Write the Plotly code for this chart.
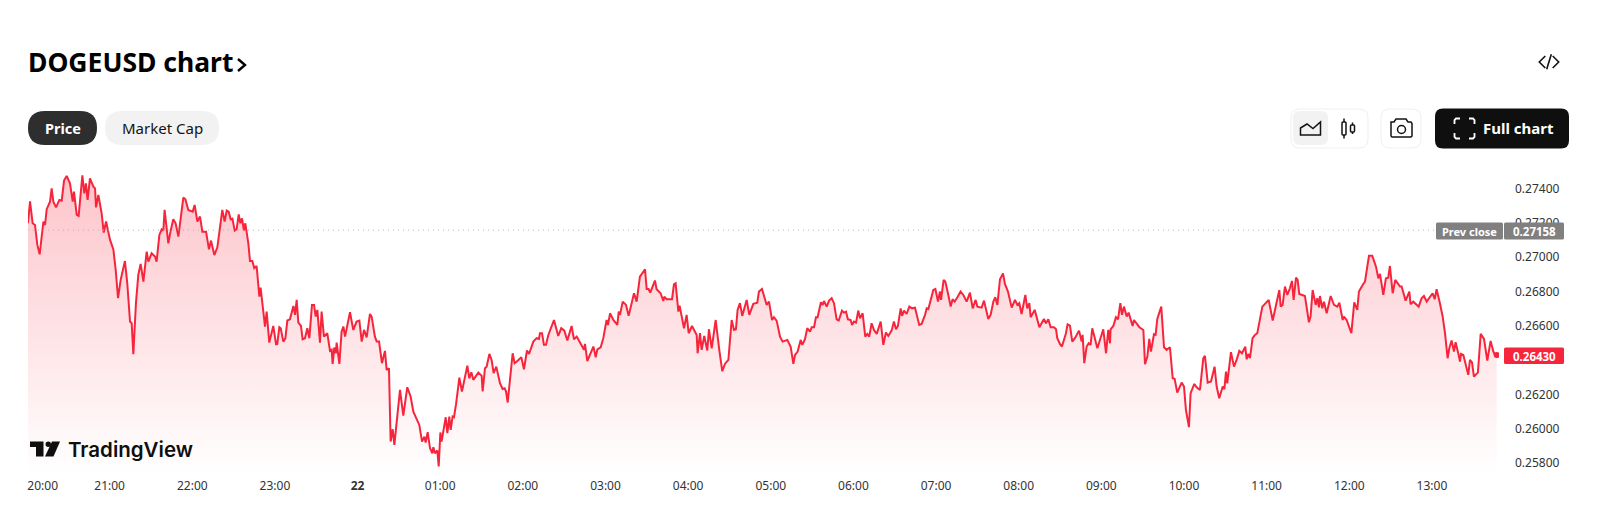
import plotly.graph_objects as go

# minutes after 20:00 and price in 1/100000 USD
minutes = [
    0.7, 2.2, 4.1, 5.8, 7.5, 9.2, 11.9, 13.1, 14.3, 16.7, 17.9, 19.1, 21.1, 23.5, 25.2, 26.9, 28.8, 31.2, 33.2, 34.1,
    36.1, 37.5, 40.2, 41.6, 42.8, 44.0, 45.7, 48.2, 49.4, 50.1, 51.8, 54.2, 55.7, 57.4, 60.3, 62.7, 64.4, 66.1, 68.0, 71.1,
    72.8, 74.8, 76.0, 77.2, 79.1, 80.8, 82.5, 84.5, 86.9, 88.1, 90.5, 92.9, 94.1, 96.1, 97.8, 99.0, 99.9, 102.6, 104.3, 106.2,
    107.9, 109.9, 113.5, 115.0, 117.1, 120.3, 121.7, 123.7, 125.6, 127.3, 130.0, 132.1, 133.6, 136.0, 138.2, 140.1, 141.8, 143.5, 145.0, 146.4,
    147.9, 149.1, 150.8, 152.2, 153.7, 154.9, 156.1, 157.5, 158.5, 160.7, 161.9, 163.6, 165.0, 166.7, 168.7, 169.6, 171.6, 172.8, 174.0, 175.9,
    178.8, 180.8, 181.7, 183.2, 184.2, 186.1, 187.6, 189.0, 190.9, 193.4, 194.6, 195.8, 197.0, 198.9, 200.1, 201.8, 203.5, 205.0, 206.9, 208.4,
    209.6, 210.8, 212.7, 213.9, 215.6, 218.0, 220.0, 221.2, 221.9, 223.1, 224.3, 224.8, 226.8, 228.4, 229.7, 230.9, 234.5, 236.9, 239.3, 241.3,
    243.0, 244.7, 246.6, 249.0, 250.2, 252.6, 253.9, 255.6, 257.7, 259.9, 261.1, 262.8, 264.0, 265.5, 266.7, 268.4,
    270.8, 273.2, 276.1, 278.5, 280.5, 284.8, 286.8, 288.5, 289.4, 290.9, 292.6, 294.3, 295.0, 296.2, 297.9, 298.9, 300.1, 301.0, 304.0, 305.2,
    306.6, 307.6, 309.0, 310.0, 311.5, 313.9, 315.8, 319.7, 321.1, 322.6, 324.0, 327.7, 330.1, 330.8, 332.5, 333.7, 335.7, 337.3, 338.8, 340.7,
    343.4, 345.3, 346.8, 347.8, 349.0, 352.6, 354.0, 356.2, 358.9, 360.8, 363.0, 364.5, 367.6, 370.0, 371.7, 372.4, 373.9, 375.3, 376.8, 378.5,
    380.9, 382.6, 385.7, 387.9, 390.1, 392.3, 395.4, 397.1, 399.1, 404.4, 405.1, 406.8, 411.2, 412.9, 414.1, 416.5, 418.4, 420.8, 421.8, 423.3,
    425.7, 428.6, 429.6, 430.5, 432.5, 434.9, 436.8, 440.7, 442.6, 445.0, 448.7, 449.9, 451.3, 452.5, 455.9, 457.1, 460.0, 462.0, 462.7, 464.4,
    468.3, 469.7, 470.9, 472.9, 473.8, 477.0, 478.9, 480.4, 482.8, 486.2, 486.9, 488.6, 489.8, 491.7, 493.9, 495.1, 497.1, 500.0, 502.6, 504.8,
    506.7, 509.2, 511.6, 513.3, 514.7, 515.9, 517.6, 519.3, 522.5, 524.4, 527.3, 530.2, 531.4, 533.6, 537.0, 538.7, 540.9, 542.3, 544.3, 546.7,
    548.6, 552.0, 554.4, 556.4, 557.6, 559.5, 561.7, 562.9, 564.8, 566.5, 568.5, 569.7, 571.4, 572.8, 574.0, 576.4, 577.7, 578.6, 580.6, 582.3,
    584.2, 585.9, 587.8, 589.3, 591.7, 593.1, 594.6, 596.0, 598.0, 599.0, 600.4, 601.9, 603.5, 604.8, 606.7, 608.6, 610.1, 611.5, 613.2, 614.9,
    616.9, 619.8, 621.7, 623.6, 625.3, 627.7, 629.4, 630.9, 632.3, 634.3, 635.3, 636.7, 638.6, 640.6, 642.5, 644.7, 647.8, 649.5, 652.0, 653.2,
    654.4, 658.0, 659.5, 661.4, 662.8, 663.6, 665.5, 666.7, 668.9, 670.6, 672.0, 673.5, 675.7, 677.8, 679.8, 682.2, 684.6, 686.6, 688.7, 690.0,
    693.1, 694.8, 697.9, 699.6, 701.6, 703.0, 704.5, 706.4, 708.6, 710.0, 712.2, 714.9, 717.3, 719.0, 720.4, 722.1, 724.8, 726.2, 727.7, 728.7,
    731.6, 735.0, 738.3, 739.8, 741.5, 743.2, 745.6, 747.1, 748.0, 750.0, 751.4, 754.3, 755.5, 757.2, 758.9, 760.8, 763.8, 765.7, 766.4, 767.6,
    769.3, 770.8, 772.2, 773.4, 777.1, 781.4, 783.4, 785.0, 786.3, 786.7, 788.7, 790.6, 792.1, 793.8, 795.0, 796.4, 798.4, 799.8, 802.7, 803.7,
    807.6, 810.5, 811.7, 813.4, 814.8, 816.0, 818.2, 819.4,
    820.6, 823.5, 825.5, 827.4, 829.8, 831.8, 833.2, 835.1, 838.3, 840.0, 841.4, 843.6, 844.8, 847.5, 849.2, 851.6, 854.0, 855.2, 857.2, 859.6,
    862.2, 863.7, 865.6, 868.1, 869.3, 870.5, 871.4, 874.1, 876.3, 878.2, 880.2, 882.1, 884.5, 885.5, 886.7, 887.9, 889.8, 891.5, 893.2, 895.2,
    896.9, 898.8, 901.5, 904.4, 906.5, 909.2, 910.2, 911.6, 913.3, 915.0, 916.9, 918.4, 919.6, 921.3, 922.5, 923.7, 927.8, 930.7, 931.9, 933.4,
    935.6, 936.8, 938.0, 938.7, 940.4, 941.6, 943.6, 946.5, 948.9, 951.3, 952.8, 955.2, 956.1, 958.1, 961.5, 963.6, 965.8, 967.0, 969.7, 971.4,
    974.3, 976.7, 979.4, 981.1, 982.3, 984.7, 986.6, 988.3, 989.5, 991.5, 993.4, 996.8, 998.0, 1000.9, 1003.6, 1004.5, 1006.5, 1010.4, 1012.5, 1014.2,
    1016.2, 1018.6, 1020.5, 1022.0, 1023.4, 1025.8, 1027.8, 1029.5, 1031.4, 1032.6, 1034.3, 1036.0, 1037.2, 1039.1, 1040.4, 1041.1, 1042.8, 1045.2, 1046.4, 1047.6,
    1049.1, 1050.5, 1053.4, 1055.4, 1057.8, 1060.2, 1062.6, 1064.6, 1065.8, 1067.0,
]
price_e5 = [
    27198, 27326, 27198, 27188, 27072, 27017, 27208, 27188, 27280, 27324, 27402, 27324, 27291, 27334, 27330, 27447, 27474, 27431, 27324, 27383,
    27247, 27241, 27478, 27373, 27431, 27334, 27460, 27412, 27402, 27291, 27363, 27256, 27144, 27208, 27101, 27046, 26926, 26761, 26868, 26978,
    26848, 26625, 26615, 26434, 26732, 26897, 26961, 26858, 27033, 26974, 27023, 27004, 26974, 27130, 27163, 27155, 27276, 27081, 27155, 27221,
    27198, 27120, 27348, 27338, 27276, 27266, 27305, 27208, 27237, 27149, 27149, 27046, 27097, 27013, 27058, 27159, 27276, 27208, 27272, 27266,
    27221, 27225, 27155, 27163, 27250, 27198, 27227, 27155, 27198, 27081, 26978, 26978, 26936, 26949, 26770, 26823, 26693, 26596, 26683, 26502,
    26599, 26493, 26495, 26592, 26586, 26508, 26528, 26631, 26638, 26716, 26664, 26751, 26619, 26599, 26522, 26528, 26586, 26528, 26722, 26722,
    26654, 26693, 26502, 26683, 26537, 26557, 26454, 26460, 26378, 26473, 26440, 26502, 26378, 26566, 26596, 26537, 26679, 26576, 26625, 26631,
    26508, 26576, 26533, 26669, 26654, 26537, 26508, 26508, 26382, 26454, 26343, 26353, 25925, 25997, 25906, 26052,
    26226, 26077, 26242, 26188, 26100, 26022, 25925, 25954, 25919, 25980, 25886, 25857, 25892, 25857, 25873, 25780, 25978, 25925, 26067, 25974,
    26071, 25993, 26071, 26067, 26143, 26298, 26217, 26368, 26294, 26329, 26285, 26327, 26308, 26217, 26353, 26362, 26436, 26401, 26324, 26362,
    26265, 26232, 26236, 26217, 26153, 26440, 26382, 26397, 26417, 26347, 26456, 26436, 26508, 26528, 26524, 26557, 26557, 26489, 26489, 26547,
    26605, 26634, 26541, 26586, 26572, 26514, 26599, 26522, 26537, 26460, 26495, 26395, 26479, 26417, 26463, 26475, 26528, 26634, 26605, 26673,
    26634, 26605, 26683, 26664, 26741, 26722, 26658, 26790, 26741, 26887, 26930, 26815, 26815, 26794, 26864, 26813, 26790, 26745, 26770, 26755,
    26755, 26842, 26848, 26683, 26718, 26586, 26664, 26557, 26599, 26547, 26440, 26557, 26460, 26541, 26456, 26580, 26469, 26634, 26460, 26335,
    26378, 26401, 26634, 26576, 26580, 26693, 26732, 26658, 26751, 26664, 26728, 26735, 26800, 26815, 26722, 26741, 26634, 26650, 26629, 26537,
    26508, 26518, 26479, 26378, 26430, 26450, 26518, 26489, 26522, 26586, 26566, 26592, 26592, 26650, 26650, 26737, 26722, 26745, 26712, 26747,
    26761, 26732, 26638, 26631, 26689, 26677, 26683, 26638, 26634, 26605, 26625, 26619, 26689, 26644, 26673, 26537, 26553, 26537, 26615, 26576,
    26553, 26625, 26489, 26561, 26541, 26572, 26625, 26580, 26599, 26702, 26658, 26689, 26669, 26712, 26702, 26706, 26605, 26611, 26664, 26702,
    26698, 26809, 26815, 26741, 26800, 26751, 26868, 26858, 26780, 26712, 26755, 26741, 26770, 26800, 26780, 26741, 26794, 26702, 26751, 26712,
    26706, 26747, 26640, 26664, 26741, 26767, 26722, 26872, 26906, 26844, 26800, 26706, 26751, 26722, 26732, 26669, 26780, 26702, 26732, 26650,
    26693, 26592, 26640, 26615, 26638, 26592, 26592, 26580, 26528, 26493, 26479, 26557, 26609, 26601, 26508, 26528, 26572, 26508, 26547, 26382,
    26479, 26498, 26489, 26586, 26469, 26580, 26440, 26576, 26498, 26580, 26599, 26650, 26638, 26732, 26664, 26712, 26654, 26677, 26599, 26634,
    26592, 26576, 26376, 26421, 26524, 26450, 26551, 26547,
    26640, 26712, 26475, 26460, 26475, 26294, 26291, 26211, 26269, 26246, 26110, 26009, 26207, 26261, 26242, 26226, 26411, 26425, 26269, 26275,
    26362, 26246, 26178, 26246, 26230, 26333, 26265, 26446, 26362, 26401, 26454, 26440, 26479, 26405, 26436, 26411, 26528, 26547, 26557, 26654,
    26712, 26728, 26751, 26631, 26702, 26809, 26712, 26722, 26829, 26780, 26819, 26862, 26751, 26881, 26868, 26786, 26774, 26621, 26654, 26809,
    26722, 26761, 26708, 26774, 26702, 26741, 26673, 26774, 26722, 26712, 26735, 26634, 26654, 26634, 26557, 26737, 26693, 26800, 26838, 26858,
    27008, 27008, 26945, 26877, 26903, 26780, 26877, 26881, 26949, 26790, 26868, 26829, 26829, 26747, 26800, 26726, 26741, 26712, 26761, 26774,
    26741, 26765, 26790, 26755, 26813, 26732, 26654, 26557, 26411, 26469, 26514, 26450, 26504, 26440, 26392, 26436, 26430, 26353, 26314, 26401,
    26386, 26304, 26329, 26553, 26524, 26397, 26512, 26450, 26430, 26430,
]
prices = [p / 100000 for p in price_e5]

prev_close = 0.27158
last_price = 0.26430
price_ticks = [0.258, 0.26, 0.262, 0.266, 0.268, 0.27, 0.272, 0.274]
time_ticks = [11.4, 60, 120, 180, 240, 300, 360, 420, 480, 540, 600, 660, 720, 780, 840, 900, 960, 1020]
time_labels = ["20:00", "21:00", "22:00", "23:00", "<b>22</b>", "01:00", "02:00", "03:00", "04:00", "05:00",
               "06:00", "07:00", "08:00", "09:00", "10:00", "11:00", "12:00", "13:00"]

RED = "#f7253c"
UI_FONT = "Noto Sans"


# the page furniture is placed in screen pixels, this turns them into paper coords
def X(px):
    return (px - 28) / 1471


def Y(py):
    return (474 - py) / 314


fig = go.Figure()
fig.add_trace(go.Scatter(
    x=minutes, y=prices, mode="lines", line=dict(color=RED, width=2), fill="tozeroy",
    fillgradient=dict(type="vertical", start=0.25736, stop=0.27478,
                      colorscale=[[0, "rgba(247,37,60,0)"], [1, "rgba(247,37,60,0.27)"]]),
    hoverinfo="skip", showlegend=False))
fig.add_trace(go.Scatter(
    x=[minutes[0], 1024], y=[prev_close, prev_close], mode="lines",
    line=dict(color="#b4b4b4", width=1, dash="1px 4px"), hoverinfo="skip", showlegend=False))
fig.add_trace(go.Scatter(
    x=[minutes[-1]], y=[last_price], mode="markers", marker=dict(color=RED, size=6),
    hoverinfo="skip", showlegend=False))

shapes = []


def box(x0, y0, x1, y1, fill="rgba(0,0,0,0)", border=None, r=0, bw=1):
    a, b, c, d = X(x0), Y(y0), X(x1), Y(y1)
    rx, ry = r / 1471, r / 314
    path = (f"M{a + rx},{b} L{c - rx},{b} Q{c},{b} {c},{b - ry} L{c},{d + ry} Q{c},{d} {c - rx},{d} "
            f"L{a + rx},{d} Q{a},{d} {a},{d + ry} L{a},{b - ry} Q{a},{b} {a + rx},{b} Z")
    shapes.append(dict(type="path", path=path, xref="paper", yref="paper", fillcolor=fill,
                       line=dict(color=border or fill, width=bw if border else 0), layer="above"))


def stroke(points, color="#131313", width=1.5, close=False, fill="rgba(0,0,0,0)"):
    path = "M" + " L".join(f"{X(x)},{Y(y)}" for x, y in points) + (" Z" if close else "")
    shapes.append(dict(type="path", path=path, xref="paper", yref="paper", fillcolor=fill,
                       line=dict(color=color, width=width), layer="above"))


# chevron after the title
stroke([(238, 59), (245, 65), (238, 71)], color="#000000", width=2.4)
# pills
box(28, 111, 97, 145, fill="#2e2e2e", r=17)
box(105, 111, 219, 145, fill="#f2f2f2", r=17)
# </> icon
stroke([(1545.3, 56), (1539.3, 62), (1545.3, 68)], width=1.6)
stroke([(1551.3, 54.3), (1546.7, 69.3)], width=1.6)
stroke([(1552.7, 56), (1558.7, 62), (1552.7, 68)], width=1.6)
# chart type group
box(1291, 109, 1368, 148, fill="#ffffff", border="#efefef", r=9)
box(1293, 111, 1328, 145, fill="#f2f2f2", r=7)
stroke([(1300.5, 135), (1300.5, 128), (1307, 124), (1313, 128.5), (1320.5, 122), (1320.5, 135)], close=True)
box(1342, 122, 1346, 135, fill="#ffffff", border="#131313", r=1, bw=1.5)
stroke([(1344, 118.5), (1344, 122)])
stroke([(1344, 135), (1344, 138.5)])
box(1350.5, 125, 1354.5, 132, fill="#ffffff", border="#131313", r=1, bw=1.5)
stroke([(1352.5, 122.5), (1352.5, 125)])
stroke([(1352.5, 132), (1352.5, 134)])
# camera button
box(1381, 109, 1421, 148, fill="#ffffff", border="#efefef", r=9)
stroke([(1391, 122), (1394, 122), (1396, 119), (1406, 119), (1408, 122), (1411, 122), (1412, 123.5), (1412, 136),
        (1411, 137), (1392, 137), (1391, 136)], close=True)
shapes.append(dict(type="circle", xref="paper", yref="paper", x0=X(1397.5), x1=X(1405.5), y0=Y(125.5), y1=Y(133.5),
                   line=dict(color="#131313", width=1.5), layer="above"))
# full chart button
box(1435, 108.5, 1569, 148.5, fill="#0f0f0f", r=8)
for pts in ([(1454.5, 124), (1454.5, 120), (1456, 118.5), (1460, 118.5)],
            [(1469, 118.5), (1473, 118.5), (1474.5, 120), (1474.5, 124)],
            [(1454.5, 133), (1454.5, 137), (1456, 138.5), (1460, 138.5)],
            [(1469, 138.5), (1473, 138.5), (1474.5, 137), (1474.5, 133)]):
    stroke(pts, color="#ffffff", width=1.8)
# price tags
box(1436, 222.5, 1503, 239.5, fill="#808080", r=1.5)
box(1504, 222.5, 1564, 239.5, fill="#808080", r=1.5)
box(1504, 347.5, 1564, 364, fill=RED, r=1.5)
# TradingView mark
stroke([(30, 441.5), (43.5, 441.5), (43.5, 456.5), (36, 456.5), (36, 447), (30, 447)], color="#0f0f0f", width=0, close=True, fill="#0f0f0f")
stroke([(52, 441.5), (60, 441.5), (53.5, 456.5), (45, 456.5)], color="#0f0f0f", width=0, close=True, fill="#0f0f0f")
shapes.append(dict(type="circle", xref="paper", yref="paper", x0=X(45.5), x1=X(51), y0=Y(441.5), y1=Y(447),
                   fillcolor="#0f0f0f", line=dict(width=0), layer="above"))

texts = [
    (28, 62, "<b>DOGEUSD chart</b>", 26.5, "#000000", "left", UI_FONT),
    (62.5, 128, "<b>Price</b>", 14.5, "#ffffff", "center", UI_FONT),
    (162, 128, "Market Cap", 15, "#131313", "center", UI_FONT),
    (1518, 127.5, "<b>Full chart</b>", 15, "#ffffff", "center", UI_FONT),
    (1469.5, 231, "<b>Prev close</b>", 11, "#ffffff", "center", UI_FONT),
    (1534, 231, "<b>0.27158</b>", 11.5, "#ffffff", "center", UI_FONT),
    (1534, 356, "<b>0.26430</b>", 11.5, "#ffffff", "center", UI_FONT),
]
annotations = [dict(x=X(x), y=Y(y), xref="paper", yref="paper", text=t, showarrow=False, xanchor=a, yanchor="middle",
                    font=dict(size=s, color=c, family=f), borderpad=0, borderwidth=0)
               for x, y, t, s, c, a, f in texts]
annotations.append(dict(x=X(66), y=Y(449), xref="paper", yref="paper", text="TradingView", showarrow=False,
                        xanchor="left", yanchor="middle",
                        font=dict(size=20.5, color="#0f0f0f", family="Inter", weight=600)))

fig.update_layout(
    width=1600, height=510, autosize=False,
    margin=dict(l=28, r=101, t=160, b=36),
    paper_bgcolor="#ffffff", plot_bgcolor="#ffffff",
    font=dict(family=UI_FONT, size=12, color="#333333"),
    shapes=shapes, annotations=annotations, hovermode=False,
    xaxis=dict(range=[0.726, 1068.7], tickmode="array", tickvals=time_ticks, ticktext=time_labels,
               showgrid=False, zeroline=False, showline=False, ticks="", ticklabelstandoff=3, fixedrange=True,
               tickangle=0, tickfont=dict(size=12, color="#333333")),
    yaxis=dict(range=[0.25736, 0.27567], side="right", tickmode="array", tickvals=price_ticks,
               ticktext=[f"{t:.5f}" for t in price_ticks], showgrid=False, zeroline=False, showline=False,
               ticks="", ticklabelstandoff=15, fixedrange=True, tickfont=dict(size=12, color="#333333")),
)

fig.write_html("out.html", config=dict(displayModeBar=False), post_script="document.body.style.margin='0';")
